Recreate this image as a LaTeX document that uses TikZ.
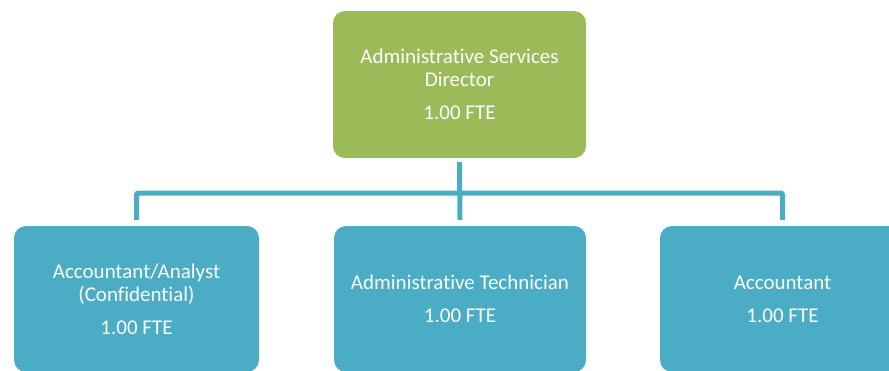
\documentclass[tikz,border=0pt]{standalone}
\usepackage{fontspec}
\setmainfont{Carlito}[Ligatures={NoCommon}]
\definecolor{boxgreen}{HTML}{9BBB59}
\definecolor{boxteal}{HTML}{4BACC6}
\begin{document}
\begin{tikzpicture}[x=1pt,y=-1pt,
  box/.style={rectangle, rounded corners=12pt, inner sep=0pt, text=white,
    align=center, font=\fontsize{21}{23}\selectfont},
  topbox/.style={box, fill=boxgreen, minimum width=253pt, minimum height=147pt},
  subbox/.style={box, fill=boxteal, minimum width=245pt, minimum height=146pt},
  conn/.style={draw=boxteal, line width=5pt, rounded corners=2pt}]
\useasboundingbox (0,0) rectangle (889,370);
\clip (0,0) rectangle (889,370);
\node[topbox] (dir) at (459.5,84.5) {Administrative Services\\Director\\[10pt]1.00 FTE};
\node[subbox] (acc1) at (136.5,299) {Accountant/Analyst\\(Confidential)\\[10pt]1.00 FTE};
\node[subbox, minimum width=252pt] (tech) at (460,299) {Administrative Technician\\[10pt]1.00 FTE};
\node[subbox] (acc2) at (782.5,299) {Accountant\\[10pt]1.00 FTE};
\coordinate (bar) at (459,193);
\draw[conn] ([yshift=-4pt]dir.south) -- ([yshift=6pt]tech.north);
\draw[conn] ([yshift=6pt]acc1.north) |- (bar) -| ([yshift=6pt]acc2.north);
\end{tikzpicture}
\end{document}
